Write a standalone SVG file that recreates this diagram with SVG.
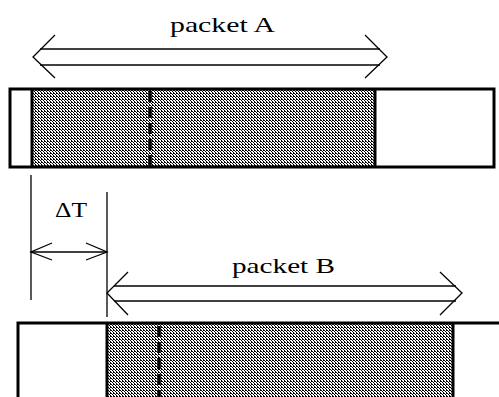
<svg xmlns="http://www.w3.org/2000/svg" width="499" height="397" viewBox="0 0 499 397">
<style>
.thin{stroke:#000;stroke-width:1.3;fill:none}
.thick{stroke:#000;stroke-width:3;fill:none}
.dash{stroke:#000;stroke-width:3.5;stroke-dasharray:11,5;fill:none}
</style>
<defs>
<pattern id="dots" width="3" height="3" patternUnits="userSpaceOnUse">
<rect width="3" height="3" fill="#fff"/>
<rect width="1" height="1" fill="#000" shape-rendering="crispEdges"/>
<rect x="1" y="1" width="1" height="1" fill="#000" shape-rendering="crispEdges"/>
<rect x="2" y="2" width="1" height="1" fill="#000" shape-rendering="crispEdges"/>
<rect x="2" y="0" width="1" height="1" fill="#000" shape-rendering="crispEdges"/>
</pattern>
</defs>
<g id="packetA">
<rect x="32" y="89" width="343" height="78" fill="url(#dots)"/>
<rect x="10" y="89" width="484" height="78" class="thick"/>
<line x1="32" y1="89" x2="32" y2="167" class="thick"/>
<line x1="375" y1="89" x2="375" y2="167" class="thick"/>
<line x1="150" y1="91" x2="150" y2="166" class="dash"/>
<text x="170" y="32" font-family="Liberation Serif" font-size="22" textLength="105" lengthAdjust="spacingAndGlyphs">packet A</text>
</g>
<g id="packetB">
<rect x="107" y="323" width="346" height="80" fill="url(#dots)"/>
<polyline points="18,400 18,323 499,323" class="thick"/>
<line x1="107" y1="323" x2="107" y2="400" class="thick"/>
<line x1="453" y1="323" x2="453" y2="400" class="thick"/>
<line x1="159" y1="326" x2="159" y2="400" class="dash"/>
<text x="232" y="273" font-family="Liberation Serif" font-size="22" textLength="103" lengthAdjust="spacingAndGlyphs">packet B</text>
</g>
<g id="deltaT">
<text x="55" y="217" font-family="Liberation Serif" font-size="22" textLength="32" lengthAdjust="spacingAndGlyphs">ΔT</text>
</g>
<g id="connectors">
<line x1="40" y1="49" x2="380" y2="49" class="thin"/>
<line x1="40" y1="65" x2="380" y2="65" class="thin"/>
<polyline points="55,35 33,57 55,78" class="thin"/>
<polyline points="365,35 387,57 365,78" class="thin"/>
<line x1="31" y1="175" x2="31" y2="300" class="thin"/>
<line x1="107" y1="192" x2="107" y2="317" class="thin"/>
<line x1="31" y1="252" x2="107" y2="252" class="thin"/>
<polyline points="52,243 31,252 52,260" class="thin"/>
<polyline points="86,243 107,252 86,260" class="thin"/>
<line x1="114" y1="286" x2="456" y2="286" class="thin"/>
<line x1="114" y1="301" x2="456" y2="301" class="thin"/>
<polyline points="128,272 107,293 128,315" class="thin"/>
<polyline points="440,272 462,293 440,315" class="thin"/>
</g>
</svg>
